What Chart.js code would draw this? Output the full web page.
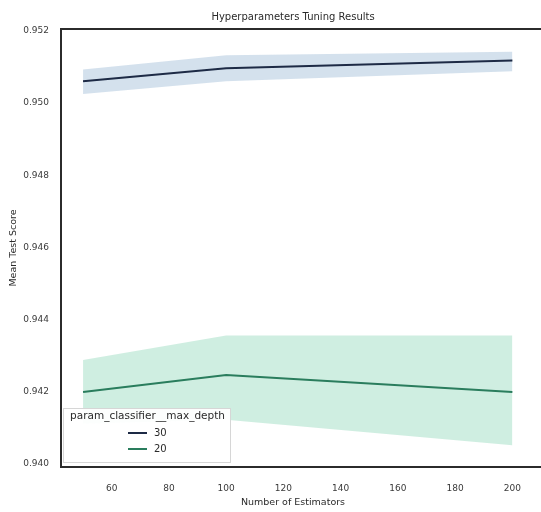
<!DOCTYPE html>
<html>
<head>
<meta charset="utf-8">
<script src="https://cdn.jsdelivr.net/npm/chart.js@4.4.1/dist/chart.umd.min.js"></script>
<style>
  html, body { margin: 0; padding: 0; background: #ffffff; overflow: hidden; }
  #wrap { width: 541px; height: 512px; }
</style>
</head>
<body>
<div id="wrap"><canvas id="chart" width="541" height="512"></canvas></div>
<script>
// Grid-search results: mean test score per number of estimators, with a spread band
const estimators = [50, 100, 200];

const depth30Mean  = [0.95060, 0.95096, 0.95118];
const depth30Upper = [0.95093, 0.95132, 0.95142];
const depth30Lower = [0.95025, 0.95060, 0.95088];

const depth20Mean  = [0.94200, 0.94247, 0.94200];
const depth20Upper = [0.94288, 0.94356, 0.94356];
const depth20Lower = [0.94112, 0.94123, 0.94052];

const xTicks = [60, 80, 100, 120, 140, 160, 180, 200];
const yTicks = [0.940, 0.942, 0.944, 0.946, 0.948, 0.950, 0.952];

const seriesLabels = ['30', '20'];
const chartTitle = 'Hyperparameters Tuning Results';
const xTitle = 'Number of Estimators';
const yTitle = 'Mean Test Score';
const legendTitle = 'param_classifier__max_depth';

const NAVY = '#1d2a45';
const NAVY_BAND = 'rgba(176, 200, 222, 0.55)';
const GREEN = '#2a7d5d';
const GREEN_BAND = 'rgba(160, 222, 196, 0.5)';
const TEXT = '#2a2a2a';

const pts = arr => estimators.map((x, i) => ({ x: x, y: arr[i] }));
const FONT = 'DejaVu Sans';

// Axes spines (left, top, bottom), titles and the in-plot legend
const decorations = {
  id: 'decorations',
  afterDraw(chart) {
    const ctx = chart.ctx;
    const a = chart.chartArea;
    ctx.save();
    ctx.strokeStyle = '#2b2b2b';
    ctx.lineWidth = 2;
    ctx.beginPath();
    ctx.moveTo(a.right + 2, a.top);
    ctx.lineTo(a.left, a.top);
    ctx.lineTo(a.left, a.bottom);
    ctx.lineTo(a.right + 2, a.bottom);
    ctx.stroke();

    const cx = 293;
    ctx.fillStyle = TEXT;
    ctx.textAlign = 'center';
    ctx.textBaseline = 'middle';
    ctx.font = '10px "' + FONT + '"';
    ctx.fillText(chartTitle, cx, 17);
    ctx.font = '9.5px "' + FONT + '"';
    ctx.fillText(xTitle, cx, 503);
    ctx.save();
    ctx.translate(14, (a.top + a.bottom) / 2);
    ctx.rotate(-Math.PI / 2);
    ctx.fillText(yTitle, 0, 0);
    ctx.restore();

    // legend box
    const bx = 63, by = 408, bw = 167, bh = 54;
    ctx.fillStyle = 'rgba(255,255,255,0.95)';
    ctx.fillRect(bx, by, bw, bh);
    ctx.strokeStyle = '#d6d6d6';
    ctx.lineWidth = 1;
    ctx.strokeRect(bx + 0.5, by + 0.5, bw, bh);
    ctx.fillStyle = TEXT;
    ctx.font = '10.5px "' + FONT + '"';
    ctx.textAlign = 'center';
    ctx.fillText(legendTitle, bx + bw / 2 + 1, 416);
    const colors = [NAVY, GREEN];
    seriesLabels.forEach((lab, i) => {
      const y = 433 + i * 16;
      ctx.strokeStyle = colors[i];
      ctx.lineWidth = 2;
      ctx.beginPath();
      ctx.moveTo(128, y);
      ctx.lineTo(147, y);
      ctx.stroke();
      ctx.fillStyle = TEXT;
      ctx.textAlign = 'left';
      ctx.font = '10px "' + FONT + '"';
      ctx.fillText(lab, 154, y);
    });
    ctx.restore();
  }
};

new Chart(document.getElementById('chart'), {
  type: 'line',
  data: {
    datasets: [
      { label: 'band30Upper', data: pts(depth30Upper), borderWidth: 0, pointRadius: 0,
        backgroundColor: NAVY_BAND, fill: '+1', order: 3 },
      { label: 'band30Lower', data: pts(depth30Lower), borderWidth: 0, pointRadius: 0,
        backgroundColor: NAVY_BAND, fill: false, order: 3 },
      { label: 'band20Upper', data: pts(depth20Upper), borderWidth: 0, pointRadius: 0,
        backgroundColor: GREEN_BAND, fill: '+1', order: 3 },
      { label: 'band20Lower', data: pts(depth20Lower), borderWidth: 0, pointRadius: 0,
        backgroundColor: GREEN_BAND, fill: false, order: 3 },
      { label: seriesLabels[0], data: pts(depth30Mean), borderColor: NAVY, borderWidth: 2,
        pointRadius: 0, fill: false, order: 1 },
      { label: seriesLabels[1], data: pts(depth20Mean), borderColor: GREEN, borderWidth: 2,
        pointRadius: 0, fill: false, order: 1 }
    ]
  },
  options: {
    responsive: false,
    animation: false,
    layout: { padding: { left: 0, right: 0, top: 29, bottom: 0 } },
    plugins: {
      legend: { display: false },
      title: { display: false },
      tooltip: { enabled: false }
    },
    scales: {
      x: {
        type: 'linear',
        min: 42.3,
        max: 210,
        grid: { display: false, drawTicks: false },
        border: { display: false },
        afterBuildTicks: s => { s.ticks = xTicks.map(v => ({ value: v })); },
        afterFit: s => { s.height = 45; },
        ticks: {
          padding: 16,
          color: '#3a3a3a',
          font: { family: FONT, size: 9 },
          callback: v => String(v),
          maxRotation: 0
        }
      },
      y: {
        type: 'linear',
        min: 0.93992,
        max: 0.95205,
        grid: { display: false, drawTicks: false },
        border: { display: false },
        afterBuildTicks: s => { s.ticks = yTicks.map(v => ({ value: v })); },
        afterFit: s => { s.width = 61; },
        ticks: {
          padding: 12,
          color: '#3a3a3a',
          font: { family: FONT, size: 9 },
          callback: v => v.toFixed(3)
        }
      }
    }
  },
  plugins: [decorations]
});
</script>
</body>
</html>
